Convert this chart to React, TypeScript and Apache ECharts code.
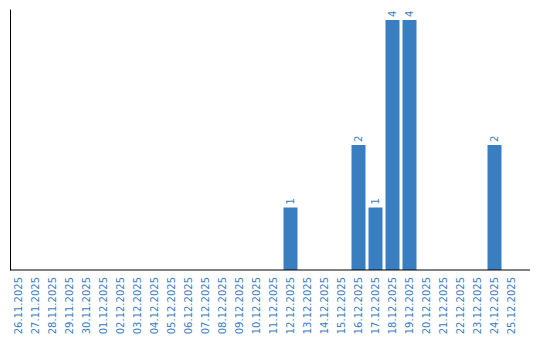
import React, { useEffect, useRef } from "react";
import * as echarts from "echarts";

const categories = [
  "26.11.2025", "27.11.2025", "28.11.2025", "29.11.2025", "30.11.2025",
  "01.12.2025", "02.12.2025", "03.12.2025", "04.12.2025", "05.12.2025",
  "06.12.2025", "07.12.2025", "08.12.2025", "09.12.2025", "10.12.2025",
  "11.12.2025", "12.12.2025", "13.12.2025", "14.12.2025", "15.12.2025",
  "16.12.2025", "17.12.2025", "18.12.2025", "19.12.2025", "20.12.2025",
  "21.12.2025", "22.12.2025", "23.12.2025", "24.12.2025", "25.12.2025",
];

const values = [
  0, 0, 0, 0, 0,
  0, 0, 0, 0, 0,
  0, 0, 0, 0, 0,
  0, 1, 0, 0, 0,
  2, 1, 4, 4, 0,
  0, 0, 0, 2, 0,
];

const BLUE = "#3a7ec2";

export default function App() {
  const ref = useRef<HTMLDivElement>(null);
  useEffect(() => {
    if (!ref.current) return;
    const chart = echarts.init(ref.current, null, { renderer: "svg" });
    chart.setOption({
      animation: false,
      grid: { left: 10, right: 20, top: 10, bottom: 70, containLabel: false },
      xAxis: {
        type: "category",
        data: categories,
        axisLine: { show: false },
        axisTick: { show: false },
        axisLabel: {
          rotate: 90,
          interval: 0,
          margin: 7,
          color: BLUE,
          fontFamily: "DejaVu Sans",
          fontSize: 10,
        },
      },
      yAxis: {
        type: "value",
        min: 0,
        max: 4.16,
        splitLine: { show: false },
        axisLabel: { show: false },
        axisTick: { show: false },
        axisLine: { show: true, lineStyle: { color: "#000", width: 1 } },
      },
      graphic: [
        {
          type: "line",
          shape: { x1: 10, y1: 270, x2: 530, y2: 270 },
          style: { stroke: "#000", lineWidth: 1 },
          z: 10,
        },
      ],
      series: [
        {
          type: "bar",
          data: values.map((v) => (v === 0 ? null : v)),
          barWidth: 14,
          itemStyle: { color: BLUE },
          label: {
            show: true,
            position: "top",
            rotate: 90,
            align: "left",
            verticalAlign: "middle",
            distance: 3,
            color: BLUE,
            fontFamily: "DejaVu Sans",
            fontSize: 10,
          },
        },
      ],
    });
    return () => chart.dispose();
  }, []);
  return <div ref={ref} style={{ width: 540, height: 340, position: "absolute", left: 0, top: 0 }} />;
}
